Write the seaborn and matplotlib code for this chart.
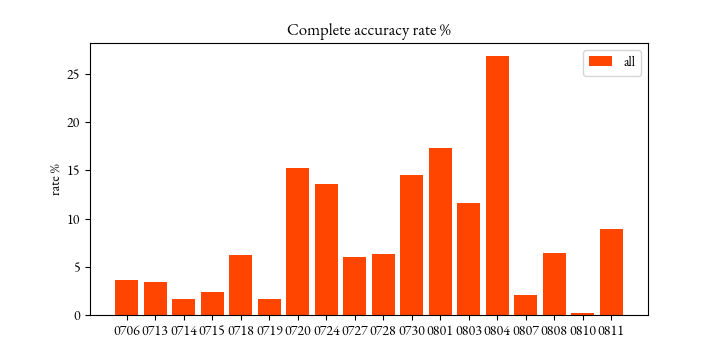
import matplotlib
matplotlib.use("Agg")
import matplotlib.pyplot as plt
import seaborn as sns
import pandas as pd

dates = ["0706", "0713", "0714", "0715", "0718", "0719", "0720", "0724", "0727",
         "0728", "0730", "0801", "0803", "0804", "0807", "0808", "0810", "0811"]
rates = [3.65, 3.44, 1.69, 2.41, 6.24, 1.69, 15.23, 13.58, 6.03,
         6.34, 14.51, 17.3, 11.6, 26.8, 2.1, 6.44, 0.24, 8.92]
series_label = "all"
title = "Complete accuracy rate %"
ylabel = "rate %"

plt.rcParams["font.family"] = ["EB Garamond", "DejaVu Serif"]
plt.rcParams["axes.unicode_minus"] = False

df = pd.DataFrame({"date": dates, "rate": rates})

fig, ax = plt.subplots(figsize=(7.2, 3.6), dpi=100)
fig.subplots_adjust(left=0.125, right=0.9, top=0.88, bottom=0.124)

sns.barplot(data=df, x="date", y="rate", color="orangered", saturation=1,
            width=0.8, label=series_label, ax=ax)

n = len(dates)
span = (n - 1) + 0.8
ax.set_xlim(-0.4 - 0.05 * span, n - 1 + 0.4 + 0.05 * span)
ax.set_ylim(0, max(rates) * 1.05)
ax.set_title(title, fontsize=12)
ax.set_ylabel(ylabel, labelpad=2)
ax.set_xlabel("")
ax.legend(loc="upper right", handlelength=1.7)

fig.savefig("out.png", dpi=100)
